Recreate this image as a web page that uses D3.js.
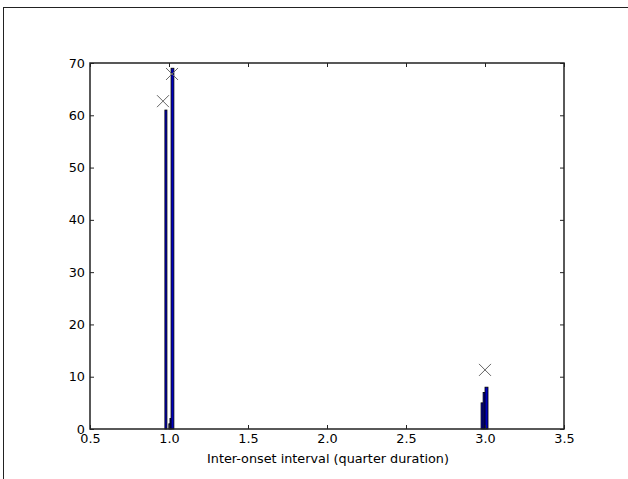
<!DOCTYPE html>
<html><head><meta charset="utf-8">
<script src="https://cdn.jsdelivr.net/npm/d3@7"></script>
<style>body{margin:0;background:#fff}svg{display:block}text{font-family:"DejaVu Sans",sans-serif;fill:#000}</style>
</head><body>
<script>
const binLeft  = [0.974, 0.999, 1.006, 1.013, 2.975, 2.988, 3.000];
const binRight = [0.987, 1.006, 1.013, 1.031, 2.988, 3.000, 3.019];
const counts   = [61, 1, 2, 69, 5, 7, 8];
const markerX = [0.962, 1.019, 3.0];
const markerY = [62.7, 67.9, 11.3];
const xTicks = [0.5, 1.0, 1.5, 2.0, 2.5, 3.0, 3.5];
const yTicks = [0, 10, 20, 30, 40, 50, 60, 70];
const xLabel = "Inter-onset interval (quarter duration)";

const W = 628, H = 479;
const L = 90, R = 564, T = 63, B = 429;
const FS = 12.8;
const svg = d3.select("body").append("svg").attr("width", W).attr("height", H);
svg.append("rect").attr("x", 3.5).attr("y", 7.5).attr("width", W + 10).attr("height", H + 10)
  .attr("fill", "none").attr("stroke", "#222").attr("stroke-width", 1);

const x = d3.scaleLinear().domain([0.5, 3.5]).range([L, R]);
const y = d3.scaleLinear().domain([0, 70]).range([B, T]);

const bars = binLeft.map((l, i) => ({l, r: binRight[i], c: counts[i]}));
svg.append("g").selectAll("rect").data(bars).join("rect")
  .attr("x", d => x(d.l)).attr("width", d => x(d.r) - x(d.l))
  .attr("y", d => y(d.c)).attr("height", d => y(0) - y(d.c))
  .attr("fill", "#0000c0").attr("stroke", "#000").attr("stroke-width", 0.8);

const s = 6;
svg.append("g").selectAll("path").data(markerX.map((v, i) => [v, markerY[i]])).join("path")
  .attr("d", d => { const cx = x(d[0]), cy = y(d[1]);
    return `M${cx - s},${cy - s}L${cx + s},${cy + s}M${cx - s},${cy + s}L${cx + s},${cy - s}`; })
  .attr("stroke", "#666").attr("stroke-width", 1).attr("fill", "none");

svg.append("rect").attr("x", L).attr("y", T).attr("width", R - L).attr("height", B - T)
  .attr("fill", "none").attr("stroke", "#222").attr("stroke-width", 1.5);

const xb = svg.append("g").attr("transform", `translate(0,${B})`)
  .call(d3.axisBottom(x).tickValues(xTicks).tickFormat(d3.format(".1f")).tickSizeInner(-4).tickSizeOuter(0).tickPadding(7));
const xt = svg.append("g").attr("transform", `translate(0,${T})`)
  .call(d3.axisTop(x).tickValues(xTicks).tickFormat("").tickSizeInner(-4).tickSizeOuter(0));
const yl = svg.append("g").attr("transform", `translate(${L},0)`)
  .call(d3.axisLeft(y).tickValues(yTicks).tickFormat(d3.format("d")).tickSizeInner(-4).tickSizeOuter(0).tickPadding(8));
const yr = svg.append("g").attr("transform", `translate(${R},0)`)
  .call(d3.axisRight(y).tickValues(yTicks).tickFormat("").tickSizeInner(-4).tickSizeOuter(0));
[xb, xt, yl, yr].forEach(g => {
  g.select(".domain").remove();
  g.selectAll("line").attr("stroke", "#222");
  g.selectAll("text").attr("font-size", FS).attr("font-family", "DejaVu Sans");
});
xb.selectAll("text").attr("dy", "0.55em");
yl.selectAll("text").attr("dx", "3");

svg.append("text").attr("x", (L + R) / 2 + 1).attr("y", 463).attr("text-anchor", "middle")
  .attr("font-size", FS).text(xLabel);
</script>
</body></html>
